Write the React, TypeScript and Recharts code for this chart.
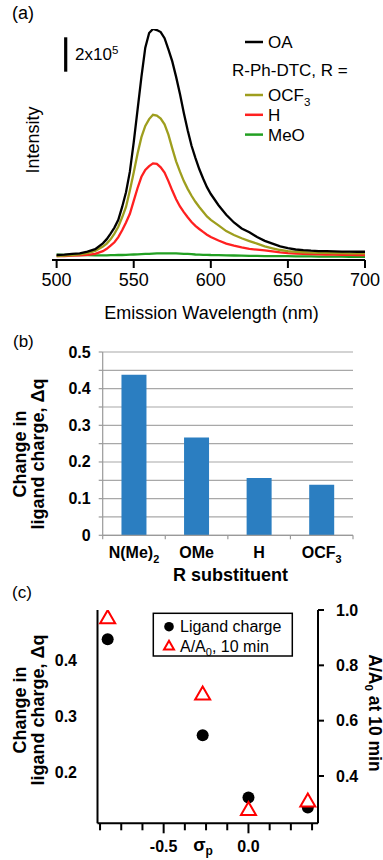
import React from 'react';
import { LineChart, Line, XAxis, YAxis, BarChart, Bar, CartesianGrid, ScatterChart, Scatter } from 'recharts';

const FONT = '"Liberation Sans", Arial, Helvetica, sans-serif';

// ---------- Panel (a): emission spectra (intensity in units of 1e5) ----------
const wavelengths = [
  500, 505, 510, 515, 520, 525,
  530, 532.5, 535, 537.5, 540, 542.5, 545, 547.5, 550, 552.5, 555, 557.5, 560, 562.5,
  565, 567.5, 570, 572.5, 575, 577.5, 580, 582.5, 585, 587.5, 590, 592.5, 595, 597.5, 600,
  605, 610, 615, 620, 625, 630, 635, 640, 645, 650, 655, 660, 665, 670, 675, 680, 685, 690, 695, 700,
];
const oaIntensity = [
  0.06, 0.08, 0.12, 0.16, 0.26, 0.4,
  0.74, 0.98, 1.3, 1.65, 2.1, 2.85, 3.7, 4.9, 6.6, 8.5, 10.4, 12.1, 12.95, 13.18,
  13.12, 13.0, 12.65, 12.0, 11.3, 10.4, 9.4, 8.3, 7.3, 6.4, 5.7, 5.05, 4.5, 4.0, 3.6,
  2.95, 2.4, 1.95, 1.6, 1.38, 1.1, 0.88, 0.72, 0.56, 0.46, 0.38, 0.34, 0.31, 0.29, 0.28, 0.27, 0.26, 0.26, 0.25, 0.25,
];
const ocf3Intensity = [
  0.0, 0.02, 0.05, 0.1, 0.17, 0.3,
  0.55, 0.72, 0.97, 1.3, 1.7, 2.25, 2.85, 3.8, 4.85, 5.95, 6.9, 7.55, 7.95, 8.2,
  8.15, 7.98, 7.65, 7.05, 6.25, 5.5, 4.9, 4.35, 3.9, 3.5, 3.15, 2.85, 2.57, 2.3, 2.1,
  1.78, 1.45, 1.22, 1.03, 0.87, 0.72, 0.56, 0.45, 0.35, 0.28, 0.24, 0.22, 0.2, 0.19, 0.18, 0.17, 0.17, 0.16, 0.16, 0.16,
];
const hIntensity = [
  0.0, 0.0, 0.02, 0.04, 0.07, 0.13,
  0.28, 0.42, 0.6, 0.8, 1.1, 1.5, 1.95, 2.45, 3.2, 3.95, 4.6, 5.0, 5.22, 5.38,
  5.35, 5.15, 4.85, 4.35, 3.8, 3.3, 2.88, 2.55, 2.25, 1.98, 1.75, 1.57, 1.4, 1.24, 1.1,
  0.9, 0.72, 0.6, 0.5, 0.42, 0.37, 0.33, 0.27, 0.21, 0.17, 0.14, 0.12, 0.11, 0.1, 0.09, 0.08, 0.07, 0.07, 0.06, 0.06,
];
const meoIntensity = [
  0.08, 0.07, 0.06, 0.05, 0.05, 0.04,
  0.04, 0.04, 0.05, 0.05, 0.06, 0.06, 0.07, 0.08, 0.09, 0.1, 0.11, 0.12, 0.13, 0.14,
  0.15, 0.15, 0.16, 0.16, 0.16, 0.15, 0.14, 0.13, 0.12, 0.11, 0.09, 0.08, 0.07, 0.07, 0.06,
  0.05, 0.04, 0.03, 0.02, 0.01, 0.01, 0.0, 0.0, -0.01, -0.01, -0.02, -0.02, -0.02, -0.03, -0.03, -0.03, -0.03, -0.04, -0.04, -0.04,
];
const wavelengthTicks = [500, 550, 600, 650, 700];

const spectrumSeries = [
  { key: 'oa', name: 'OA', color: '#000000', values: oaIntensity },
  { key: 'ocf3', name: 'OCF3', color: '#9e9e1e', values: ocf3Intensity },
  { key: 'h', name: 'H', color: '#ff2020', values: hIntensity },
  { key: 'meo', name: 'MeO', color: '#22a022', values: meoIntensity },
];

const spectrumRows = wavelengths.map((nm, i) => {
  const row: any = { nm };
  spectrumSeries.forEach((s) => { row[s.key] = s.values[i]; });
  return row;
});

// ---------- Panel (b) & (c) ----------
const substituents = ['N(Me)2', 'OMe', 'H', 'OCF3'];
const ligandChargeChange = [0.438, 0.267, 0.156, 0.138];
const barGridTicks = [0, 0.05, 0.1, 0.15, 0.2, 0.25, 0.3, 0.35, 0.4, 0.45, 0.5];

const sigmaP = [-0.83, -0.27, 0.0, 0.35];
const absorbanceRatio10min = [0.968, 0.692, 0.275, 0.305];
const sigmaTicks = [-0.875, -0.75, -0.625, -0.5, -0.375, -0.25, -0.125, 0, 0.125, 0.25, 0.375];
const sigmaMajor = [-0.5, 0];
const chargeTicks = [0.2, 0.3, 0.4];
const ratioTicks = [0.4, 0.6, 0.8, 1.0];

const barRows = substituents.map((label, i) => ({ label, dq: ligandChargeChange[i] }));
const chargeRows = sigmaP.map((x, i) => ({ x, y: ligandChargeChange[i] }));
const ratioRows = sigmaP.map((x, i) => ({ x, y: absorbanceRatio10min[i] }));

// text with trailing digit as subscript
const subText = (s: string, fs: number) => {
  const m = s.match(/^(.*?)(\d)$/);
  if (!m) return s;
  return [
    <tspan key="a">{m[1]}</tspan>,
    <tspan key="b" fontSize={fs * 0.68} dy={fs * 0.28}>{m[2]}</tspan>,
  ];
};

const BarXTick = (props: any) => {
  const { x, y, payload, index } = props;
  const off = payload && payload.offset != null ? payload.offset : 31.25;
  return (
    <g>
      <line x1={x - off} x2={x - off} y1={y} y2={y + 4} stroke="#9a9a9a" strokeWidth={1.2} />
      {index === substituents.length - 1 && (
        <line x1={x + off} x2={x + off} y1={y} y2={y + 4} stroke="#9a9a9a" strokeWidth={1.2} />
      )}
      <text x={x} y={y + 23} textAnchor="middle" fontSize={16} fontWeight="bold" fill="#000" fontFamily={FONT}>
        {subText(String(payload.value), 16)}
      </text>
    </g>
  );
};

const BarYTick = (props: any) => {
  const { x, y, payload } = props;
  const v = payload.value as number;
  const major = Math.abs(v * 10 - Math.round(v * 10)) < 1e-6;
  if (!major) return <g />;
  return (
    <text x={x} y={y} textAnchor="end" dominantBaseline="central" fontSize={16} fontWeight="bold" fill="#000" fontFamily={FONT}>
      {v === 0 ? '0' : v.toFixed(1)}
    </text>
  );
};

const SigmaTick = (props: any) => {
  const { x, y, payload } = props;
  const v = payload.value as number;
  const major = sigmaMajor.some((m) => Math.abs(m - v) < 1e-9);
  return (
    <g>
      <line x1={x} x2={x} y1={y} y2={y + (major ? 10 : 7)} stroke="#000" strokeWidth={2} />
      {major && (
        <text x={x} y={y + 28.5} textAnchor="middle" fontSize={16} fontWeight="bold" fill="#000" fontFamily={FONT}>
          {v.toFixed(1)}
        </text>
      )}
    </g>
  );
};

const circleShape = (p: any) => <circle cx={p.cx} cy={p.cy} r={6} fill="#000" />;
const triPath = (cx: number, cy: number, w: number) => {
  const h = (w * Math.sqrt(3)) / 2;
  return `M${cx},${cy - (2 * h) / 3} L${cx + w / 2},${cy + h / 3} L${cx - w / 2},${cy + h / 3} Z`;
};
const triangleShape = (p: any) => (
  <path d={triPath(p.cx, p.cy, 15)} fill="#fff" stroke="#ff0000" strokeWidth={2} strokeLinejoin="miter" />
);

const boldTick = { fill: '#000', fontSize: 16, fontWeight: 'bold', fontFamily: FONT } as any;

export default function App() {
  return (
    <div style={{ position: 'absolute', left: 0, top: 0, width: 383, height: 860, background: '#fff', fontFamily: FONT, overflow: 'hidden' }}>
      {/* (a) */}
      <div style={{ position: 'absolute', left: 0, top: 0 }}>
        <LineChart width={383} height={300} data={spectrumRows} margin={{ top: 29, right: 18, bottom: 0, left: 52 }}>
          <XAxis
            dataKey="nm"
            type="number"
            domain={[497, 700]}
            ticks={wavelengthTicks}
            allowDataOverflow
            interval={0}
            height={40}
            tickSize={8}
            tickMargin={5}
            axisLine={{ stroke: '#000', strokeWidth: 2 }}
            tickLine={{ stroke: '#000', strokeWidth: 2 }}
            tick={{ fill: '#000', fontSize: 18, fontFamily: FONT }}
          />
          <YAxis
            type="number"
            domain={[-0.23, 13.18]}
            allowDataOverflow
            width={0}
            tick={false}
            tickLine={false}
            axisLine={{ stroke: '#000', strokeWidth: 2 }}
          />
          {spectrumSeries.slice().reverse().map((s) => (
            <Line key={s.key} dataKey={s.key} stroke={s.color} strokeWidth={2.3} dot={false} type="linear" isAnimationActive={false} />
          ))}
        </LineChart>
      </div>

      {/* (b) */}
      <div style={{ position: 'absolute', left: 0, top: 320 }}>
        <BarChart width={383} height={250} data={barRows} margin={{ top: 32, right: 30, bottom: 0, left: 0 }} barCategoryGap="30%">
          <CartesianGrid vertical={false} stroke="#a8a8a8" strokeWidth={1.2} />
          <XAxis
            dataKey="label"
            interval={0}
            height={34.7}
            tickSize={0}
            tickMargin={0}
            tickLine={false}
            axisLine={{ stroke: '#9a9a9a', strokeWidth: 1.2 }}
            tick={(p: any) => <BarXTick {...p} />}
          />
          <YAxis
            type="number"
            domain={[0, 0.5]}
            ticks={barGridTicks}
            interval={0}
            width={102.7}
            tickSize={4}
            tickMargin={8}
            tickLine={{ stroke: '#9a9a9a', strokeWidth: 1.2 }}
            axisLine={{ stroke: '#9a9a9a', strokeWidth: 1.2 }}
            tick={(p: any) => <BarYTick {...p} />}
          />
          <Bar dataKey="dq" fill="#2b7ec1" isAnimationActive={false} />
        </BarChart>
      </div>

      {/* (c) */}
      <div style={{ position: 'absolute', left: 0, top: 590 }}>
        <ScatterChart width={383} height={270} margin={{ top: 20, right: 0, bottom: 0, left: 0 }}>
          <XAxis
            dataKey="x"
            type="number"
            domain={[-0.89, 0.41]}
            ticks={sigmaTicks}
            allowDataOverflow
            interval={0}
            height={36.7}
            tickSize={0}
            tickMargin={0}
            tickLine={false}
            axisLine={{ stroke: '#000', strokeWidth: 2 }}
            tick={(p: any) => <SigmaTick {...p} />}
          />
          <YAxis
            yAxisId="left"
            dataKey="y"
            type="number"
            domain={[0.11, 0.49]}
            ticks={chargeTicks}
            allowDataOverflow
            interval={0}
            width={97.5}
            tickSize={0}
            tickMargin={20.5}
            tickLine={false}
            axisLine={{ stroke: '#000', strokeWidth: 2 }}
            tick={boldTick}
            tickFormatter={(v: number) => v.toFixed(1)}
          />
          <YAxis
            yAxisId="right"
            orientation="right"
            dataKey="y"
            type="number"
            domain={[0.229, 1.0]}
            ticks={ratioTicks}
            allowDataOverflow
            interval={0}
            width={65}
            tickSize={6}
            tickMargin={12}
            tickLine={{ stroke: '#000', strokeWidth: 2 }}
            axisLine={{ stroke: '#000', strokeWidth: 2 }}
            tick={boldTick}
            tickFormatter={(v: number) => v.toFixed(1)}
          />
          <Scatter yAxisId="left" data={chargeRows} shape={circleShape} isAnimationActive={false} />
          <Scatter yAxisId="right" data={ratioRows} shape={triangleShape} isAnimationActive={false} />
        </ScatterChart>
      </div>

      {/* annotations */}
      <svg width={383} height={860} style={{ position: 'absolute', left: 0, top: 0, pointerEvents: 'none' }} fontFamily={FONT}>
        {/* panel (a) */}
        <text x={12} y={19} fontSize={18} fill="#000">(a)</text>
        <line x1={65.7} x2={65.7} y1={37.3} y2={71.7} stroke="#000" strokeWidth={3.2} />
        <text x={75} y={60} fontSize={17} fill="#000">
          2x10<tspan fontSize={11.5} dy={-6}>5</tspan>
        </text>
        <text transform="translate(33,140) rotate(-90)" textAnchor="middle" dominantBaseline="central" fontSize={18} fill="#000">Intensity</text>
        <text x={211.5} y={319} textAnchor="middle" fontSize={18} fill="#000">Emission Wavelength (nm)</text>
        {/* legend (a) */}
        <line x1={245} x2={263} y1={42} y2={42} stroke={spectrumSeries[0].color} strokeWidth={2.5} />
        <text x={268} y={42} dominantBaseline="central" fontSize={17} fill="#000">{spectrumSeries[0].name}</text>
        <text x={232} y={70} dominantBaseline="central" fontSize={17} fill="#000">R-Ph-DTC, R =</text>
        {spectrumSeries.slice(1).map((s, i) => {
          const y = 95 + i * 19.8;
          return (
            <g key={s.key}>
              <line x1={245} x2={263} y1={y} y2={y} stroke={s.color} strokeWidth={2.5} />
              <text x={268} y={y + 6} fontSize={17} fill="#000">{subText(s.name, 17)}</text>
            </g>
          );
        })}

        {/* panel (b) */}
        <text x={13} y={347} fontSize={17} fill="#000">(b)</text>
        <text transform="translate(19.5,454) rotate(-90)" textAnchor="middle" dominantBaseline="central" fontSize={18} fontWeight="bold" fill="#000">Change in</text>
        <text transform="translate(37.5,454) rotate(-90)" textAnchor="middle" dominantBaseline="central" fontSize={18} fontWeight="bold" fill="#000">ligand charge, Δq</text>
        <text x={230.5} y={581} textAnchor="middle" fontSize={18} fontWeight="bold" fill="#000">R substituent</text>

        {/* panel (c) */}
        <text x={12} y={598} fontSize={17} fill="#000">(c)</text>
        <text transform="translate(19.5,710) rotate(-90)" textAnchor="middle" dominantBaseline="central" fontSize={18} fontWeight="bold" fill="#000">Change in</text>
        <text transform="translate(37.5,710) rotate(-90)" textAnchor="middle" dominantBaseline="central" fontSize={18} fontWeight="bold" fill="#000">ligand charge, Δq</text>
        <text transform="translate(368.5,713) rotate(90)" textAnchor="middle" fontSize={17.5} fontWeight="bold" fill="#000">
          A/A<tspan fontSize={11.5} dy={4}>0</tspan><tspan dy={-4}> at 10 min</tspan>
        </text>
        <text x={203} y={851} textAnchor="middle" fontSize={18} fontWeight="bold" fill="#000">
          σ<tspan fontSize={12} dy={4}>p</tspan>
        </text>
        {/* legend (c) */}
        <rect x={153.3} y={613.3} width={139} height={42.7} fill="#fff" stroke="#000" strokeWidth={1.5} />
        <circle cx={169} cy={626.7} r={4.8} fill="#000" />
        <text x={180} y={626.7} dominantBaseline="central" fontSize={16} fill="#000">Ligand charge</text>
        <path d={triPath(169, 646.5, 10)} fill="#fff" stroke="#ff0000" strokeWidth={2} />
        <text x={180} y={651.5} fontSize={16} fill="#000">
          A/A<tspan fontSize={11} dy={4}>0</tspan><tspan dy={-4}>, 10 min</tspan>
        </text>
      </svg>
    </div>
  );
}
